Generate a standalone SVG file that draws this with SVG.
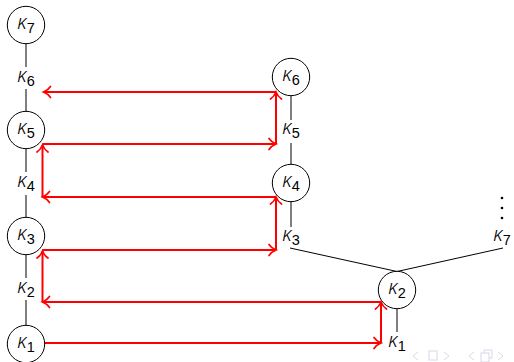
<svg xmlns="http://www.w3.org/2000/svg" width="514" height="362" viewBox="0 0 514 362">
  <style>
    .node circle { fill: #ffffff; stroke: #000000; stroke-width: 1; }
    .lbl { font-family: "Liberation Sans", Arial, sans-serif; fill: #000000; }
    .k { font-family: "Noto Sans", "DejaVu Sans", sans-serif; font-size: 20px; font-style: italic; font-weight: 300; }
    .s { font-size: 14.5px; }
    .edge { stroke: #000000; stroke-width: 1; fill: none; }
    .map { stroke: #ff0000; stroke-width: 2; fill: none; marker-end: url(#head); }
    .nav { fill: none; stroke: #d8d8ec; stroke-width: 1; }
  </style>
  <defs>
    <marker id="head" markerUnits="userSpaceOnUse" markerWidth="12" markerHeight="14" viewBox="-9 -7 11 14" refX="0" refY="0" orient="auto">
      <path d="M-7,-5.5 C-5,-2.5 -2,-0.8 0,0 C-2,0.8 -5,2.5 -7,5.5" stroke="#ff0000" stroke-width="1.7" fill="none" stroke-linecap="round"/>
    </marker>
  </defs>

  <!-- structure edges -->
  <g id="edges">
    <line class="edge" x1="26" y1="43.5" x2="26" y2="67"/>
    <line class="edge" x1="26" y1="89" x2="26" y2="111.5"/>
    <line class="edge" x1="26" y1="148.5" x2="26" y2="172"/>
    <line class="edge" x1="26" y1="195" x2="26" y2="217.5"/>
    <line class="edge" x1="26" y1="254.5" x2="26" y2="278"/>
    <line class="edge" x1="26" y1="300" x2="26" y2="325.5"/>
    <line class="edge" x1="291" y1="95.5" x2="291" y2="120"/>
    <line class="edge" x1="291" y1="143" x2="291" y2="164.5"/>
    <line class="edge" x1="291" y1="201.5" x2="291" y2="227"/>
    <line class="edge" x1="290" y1="248" x2="397" y2="271.5"/>
    <line class="edge" x1="503" y1="248" x2="397" y2="271.5"/>
    <line class="edge" x1="397" y1="308.5" x2="397" y2="332"/>
  </g>

  <!-- red comparison maps -->
  <g id="maps">
    <line class="map" x1="276" y1="92" x2="43.5" y2="92"/>
    <line class="map" x1="276" y1="144" x2="276" y2="92"/>
    <line class="map" x1="42.5" y1="144" x2="276" y2="144"/>
    <line class="map" x1="42.5" y1="197" x2="42.5" y2="145"/>
    <line class="map" x1="276" y1="197" x2="42.5" y2="197"/>
    <line class="map" x1="276" y1="250" x2="276" y2="197"/>
    <line class="map" x1="42.5" y1="250" x2="276" y2="250"/>
    <line class="map" x1="42.5" y1="302" x2="42.5" y2="251"/>
    <line class="map" x1="381" y1="302" x2="42.5" y2="302"/>
    <line class="map" x1="381" y1="343" x2="381" y2="302"/>
    <line class="map" x1="44.5" y1="343" x2="381" y2="343"/>
  </g>

  <!-- left column -->
  <g id="L7" class="node"><circle cx="26" cy="25" r="18.7"/>
    <text class="lbl" x="26" y="28.5" text-anchor="middle"><tspan class="k">κ</tspan><tspan class="s" dy="4">7</tspan></text></g>
  <g id="L6"><text class="lbl" x="26" y="81.5" text-anchor="middle"><tspan class="k">κ</tspan><tspan class="s" dy="4">6</tspan></text></g>
  <g id="L5" class="node"><circle cx="26" cy="130" r="18.7"/>
    <text class="lbl" x="26" y="133.5" text-anchor="middle"><tspan class="k">κ</tspan><tspan class="s" dy="4">5</tspan></text></g>
  <g id="L4"><text class="lbl" x="26" y="186.5" text-anchor="middle"><tspan class="k">κ</tspan><tspan class="s" dy="4">4</tspan></text></g>
  <g id="L3" class="node"><circle cx="26" cy="236" r="18.7"/>
    <text class="lbl" x="26" y="239.5" text-anchor="middle"><tspan class="k">κ</tspan><tspan class="s" dy="4">3</tspan></text></g>
  <g id="L2"><text class="lbl" x="26" y="292.5" text-anchor="middle"><tspan class="k">κ</tspan><tspan class="s" dy="4">2</tspan></text></g>
  <g id="L1" class="node"><circle cx="26" cy="344" r="18.7"/>
    <text class="lbl" x="26" y="347.5" text-anchor="middle"><tspan class="k">κ</tspan><tspan class="s" dy="4">1</tspan></text></g>

  <!-- right column -->
  <g id="R6" class="node"><circle cx="291" cy="77" r="18.7"/>
    <text class="lbl" x="291" y="80.5" text-anchor="middle"><tspan class="k">κ</tspan><tspan class="s" dy="4">6</tspan></text></g>
  <g id="R5"><text class="lbl" x="291" y="133.5" text-anchor="middle"><tspan class="k">κ</tspan><tspan class="s" dy="4">5</tspan></text></g>
  <g id="R4" class="node"><circle cx="291" cy="183" r="18.7"/>
    <text class="lbl" x="291" y="186.5" text-anchor="middle"><tspan class="k">κ</tspan><tspan class="s" dy="4">4</tspan></text></g>
  <g id="R3"><text class="lbl" x="291" y="240.5" text-anchor="middle"><tspan class="k">κ</tspan><tspan class="s" dy="4">3</tspan></text></g>

  <!-- branch -->
  <g id="B2" class="node"><circle cx="397" cy="290" r="18.7"/>
    <text class="lbl" x="397" y="293.5" text-anchor="middle"><tspan class="k">κ</tspan><tspan class="s" dy="4">2</tspan></text></g>
  <g id="B1"><text class="lbl" x="397" y="346.5" text-anchor="middle"><tspan class="k">κ</tspan><tspan class="s" dy="4">1</tspan></text></g>
  <g id="B7"><text class="lbl" x="502" y="240.5" text-anchor="middle"><tspan class="k">κ</tspan><tspan class="s" dy="4">7</tspan></text>
    <circle cx="502" cy="198" r="1.3" fill="#000"/>
    <circle cx="502" cy="208" r="1.3" fill="#000"/>
    <circle cx="502" cy="218" r="1.3" fill="#000"/></g>

  <!-- navigation symbols -->
  <g id="nav" class="nav">
    <path d="M418,352 L413,356 L418,360"/>
    <rect x="429" y="351" width="8" height="9"/>
    <path d="M444,352 L449,356 L444,360"/>
    <path d="M474,352 L469,356 L474,360"/>
    <rect x="481" y="353" width="8" height="9"/>
    <path d="M484,353 V350 H492 V358 H489"/>
    <path d="M498,352 L503,356 L498,360"/>
  </g>
</svg>
